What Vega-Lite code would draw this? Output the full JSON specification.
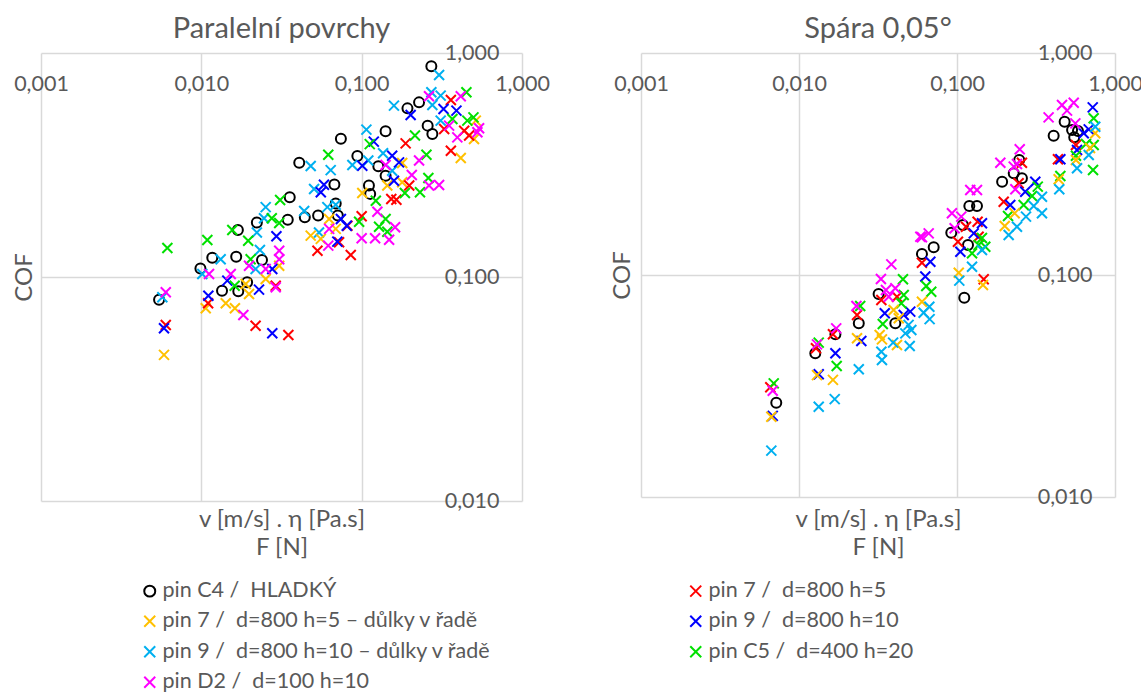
{
"$schema": "https://vega.github.io/schema/vega-lite/v6.json",
"background": "white",
"padding": {"left": 12, "top": 15, "right": 0, "bottom": 0},
"spacing": 60,
"config": {
  "font": "Lato",
  "view": {"stroke": null},
  "title": {"fontSize": 29, "fontWeight": "normal", "color": "#595959", "baseline": "alphabetic", "offset": -2, "frame": "group"},
  "axis": {"grid": true, "gridColor": "#d9d9d9", "gridWidth": 1.5, "domain": false, "ticks": false, "tickSize": 0, "labelFontSize": 21.5, "labelColor": "#595959", "labelFlush": false, "labelOverlap": false, "titleFontSize": 24, "titleFontWeight": "normal", "titleColor": "#595959"}
},
"datasets": {"d": [
{"p":"L","s":"C4","v":0.272,"c":0.872},{"p":"L","s":"C4","v":0.228,"c":0.602},{"p":"L","s":"C4","v":0.193,"c":0.566},{"p":"L","s":"C4","v":0.258,"c":0.474},{"p":"L","s":"C4","v":0.276,"c":0.435},{"p":"L","s":"C4","v":0.141,"c":0.447},{"p":"L","s":"C4","v":0.0742,"c":0.414},{"p":"L","s":"C4","v":0.0408,"c":0.324},{"p":"L","s":"C4","v":0.094,"c":0.347},{"p":"L","s":"C4","v":0.127,"c":0.312},{"p":"L","s":"C4","v":0.141,"c":0.283},{"p":"L","s":"C4","v":0.0676,"c":0.259},{"p":"L","s":"C4","v":0.0356,"c":0.227},{"p":"L","s":"C4","v":0.0346,"c":0.18},{"p":"L","s":"C4","v":0.0442,"c":0.185},{"p":"L","s":"C4","v":0.0535,"c":0.188},{"p":"L","s":"C4","v":0.0689,"c":0.213},{"p":"L","s":"C4","v":0.071,"c":0.188},{"p":"L","s":"C4","v":0.111,"c":0.256},{"p":"L","s":"C4","v":0.113,"c":0.235},{"p":"L","s":"C4","v":0.0169,"c":0.162},{"p":"L","s":"C4","v":0.0222,"c":0.175},{"p":"L","s":"C4","v":0.0117,"c":0.122},{"p":"L","s":"C4","v":0.0165,"c":0.123},{"p":"L","s":"C4","v":0.0239,"c":0.119},{"p":"L","s":"C4","v":0.00987,"c":0.109},{"p":"L","s":"C4","v":0.01346,"c":0.0868},{"p":"L","s":"C4","v":0.017,"c":0.0863},{"p":"L","s":"C4","v":0.0193,"c":0.0947},{"p":"L","s":"C4","v":0.00545,"c":0.0792},
{"p":"L","s":"9d","v":0.304,"c":0.798},{"p":"L","s":"9d","v":0.272,"c":0.668},{"p":"L","s":"9d","v":0.311,"c":0.645},{"p":"L","s":"9d","v":0.276,"c":0.586},{"p":"L","s":"9d","v":0.159,"c":0.582},{"p":"L","s":"9d","v":0.311,"c":0.499},{"p":"L","s":"9d","v":0.107,"c":0.455},{"p":"L","s":"9d","v":0.136,"c":0.357},{"p":"L","s":"9d","v":0.0875,"c":0.316},{"p":"L","s":"9d","v":0.11,"c":0.331},{"p":"L","s":"9d","v":0.0481,"c":0.313},{"p":"L","s":"9d","v":0.0641,"c":0.3},{"p":"L","s":"9d","v":0.0505,"c":0.247},{"p":"L","s":"9d","v":0.0438,"c":0.197},{"p":"L","s":"9d","v":0.0611,"c":0.205},{"p":"L","s":"9d","v":0.0689,"c":0.21},{"p":"L","s":"9d","v":0.0542,"c":0.158},{"p":"L","s":"9d","v":0.0252,"c":0.205},{"p":"L","s":"9d","v":0.0246,"c":0.183},{"p":"L","s":"9d","v":0.0222,"c":0.158},{"p":"L","s":"9d","v":0.0232,"c":0.132},{"p":"L","s":"9d","v":0.0132,"c":0.12},{"p":"L","s":"9d","v":0.01014,"c":0.1031},{"p":"L","s":"9d","v":0.155,"c":0.298},{"p":"L","s":"9d","v":0.00571,"c":0.0812},{"p":"L","s":"9d","v":0.0218,"c":0.1086},
{"p":"L","s":"7d","v":0.515,"c":0.499},{"p":"L","s":"7d","v":0.502,"c":0.413},{"p":"L","s":"7d","v":0.415,"c":0.34},{"p":"L","s":"7d","v":0.179,"c":0.323},{"p":"L","s":"7d","v":0.1009,"c":0.237},{"p":"L","s":"7d","v":0.1445,"c":0.256},{"p":"L","s":"7d","v":0.179,"c":0.265},{"p":"L","s":"7d","v":0.0481,"c":0.153},{"p":"L","s":"7d","v":0.0556,"c":0.148},{"p":"L","s":"7d","v":0.0627,"c":0.1815},{"p":"L","s":"7d","v":0.0689,"c":0.164},{"p":"L","s":"7d","v":0.0306,"c":0.1123},{"p":"L","s":"7d","v":0.0252,"c":0.098},{"p":"L","s":"7d","v":0.01984,"c":0.084},{"p":"L","s":"7d","v":0.0189,"c":0.0931},{"p":"L","s":"7d","v":0.0142,"c":0.0763},{"p":"L","s":"7d","v":0.01065,"c":0.0725},{"p":"L","s":"7d","v":0.0162,"c":0.0725},{"p":"L","s":"7d","v":0.00585,"c":0.0449},
{"p":"L","s":"7","v":0.36,"c":0.617},{"p":"L","s":"7","v":0.327,"c":0.458},{"p":"L","s":"7","v":0.436,"c":0.45},{"p":"L","s":"7","v":0.468,"c":0.428},{"p":"L","s":"7","v":0.36,"c":0.366},{"p":"L","s":"7","v":0.188,"c":0.395},{"p":"L","s":"7","v":0.198,"c":0.256},{"p":"L","s":"7","v":0.153,"c":0.223},{"p":"L","s":"7","v":0.1646,"c":0.2214},{"p":"L","s":"7","v":0.1,"c":0.1866},{"p":"L","s":"7","v":0.0815,"c":0.1694},{"p":"L","s":"7","v":0.0723,"c":0.1429},{"p":"L","s":"7","v":0.053,"c":0.131},{"p":"L","s":"7","v":0.0855,"c":0.1254},{"p":"L","s":"7","v":0.0291,"c":0.0914},{"p":"L","s":"7","v":0.006,"c":0.0611},{"p":"L","s":"7","v":0.0218,"c":0.0606},{"p":"L","s":"7","v":0.0349,"c":0.0551},{"p":"L","s":"7","v":0.01102,"c":0.0763},
{"p":"L","s":"9","v":0.324,"c":0.562},{"p":"L","s":"9","v":0.39,"c":0.553},{"p":"L","s":"9","v":0.202,"c":0.529},{"p":"L","s":"9","v":0.119,"c":0.402},{"p":"L","s":"9","v":0.1009,"c":0.314},{"p":"L","s":"9","v":0.155,"c":0.348},{"p":"L","s":"9","v":0.171,"c":0.325},{"p":"L","s":"9","v":0.159,"c":0.269},{"p":"L","s":"9","v":0.0582,"c":0.258},{"p":"L","s":"9","v":0.0556,"c":0.239},{"p":"L","s":"9","v":0.0742,"c":0.1815},{"p":"L","s":"9","v":0.0807,"c":0.1694},{"p":"L","s":"9","v":0.0705,"c":0.1438},{"p":"L","s":"9","v":0.0294,"c":0.152},{"p":"L","s":"9","v":0.0277,"c":0.1086},{"p":"L","s":"9","v":0.01452,"c":0.0963},{"p":"L","s":"9","v":0.0229,"c":0.0878},{"p":"L","s":"9","v":0.01106,"c":0.0825},{"p":"L","s":"9","v":0.00585,"c":0.059},{"p":"L","s":"9","v":0.0277,"c":0.0561},
{"p":"L","s":"C5","v":0.45,"c":0.668},{"p":"L","s":"C5","v":0.498,"c":0.516},{"p":"L","s":"C5","v":0.456,"c":0.499},{"p":"L","s":"C5","v":0.368,"c":0.507},{"p":"L","s":"C5","v":0.215,"c":0.428},{"p":"L","s":"C5","v":0.1123,"c":0.392},{"p":"L","s":"C5","v":0.2535,"c":0.3516},{"p":"L","s":"C5","v":0.0619,"c":0.3516},{"p":"L","s":"C5","v":0.031,"c":0.2207},{"p":"L","s":"C5","v":0.0275,"c":0.1828},{"p":"L","s":"C5","v":0.0156,"c":0.162},{"p":"L","s":"C5","v":0.0196,"c":0.1452},{"p":"L","s":"C5","v":0.0109,"c":0.1463},{"p":"L","s":"C5","v":0.00614,"c":0.1348},{"p":"L","s":"C5","v":0.0306,"c":0.1742},{"p":"L","s":"C5","v":0.2606,"c":0.2767},{"p":"L","s":"C5","v":0.231,"c":0.239},{"p":"L","s":"C5","v":0.186,"c":0.237},{"p":"L","s":"C5","v":0.1225,"c":0.219},{"p":"L","s":"C5","v":0.0964,"c":0.1766},{"p":"L","s":"C5","v":0.141,"c":0.1815},{"p":"L","s":"C5","v":0.1284,"c":0.1677},{"p":"L","s":"C5","v":0.1445,"c":0.1593},{"p":"L","s":"C5","v":0.0203,"c":0.12},{"p":"L","s":"C5","v":0.01614,"c":0.0914},
{"p":"L","s":"D2","v":0.415,"c":0.641},{"p":"L","s":"D2","v":0.263,"c":0.641},{"p":"L","s":"D2","v":0.351,"c":0.474},{"p":"L","s":"D2","v":0.395,"c":0.42},{"p":"L","s":"D2","v":0.54,"c":0.461},{"p":"L","s":"D2","v":0.527,"c":0.4426},{"p":"L","s":"D2","v":0.141,"c":0.316},{"p":"L","s":"D2","v":0.2054,"c":0.2853},{"p":"L","s":"D2","v":0.228,"c":0.331},{"p":"L","s":"D2","v":0.263,"c":0.256},{"p":"L","s":"D2","v":0.304,"c":0.2574},{"p":"L","s":"D2","v":0.1253,"c":0.1957},{"p":"L","s":"D2","v":0.1616,"c":0.1667},{"p":"L","s":"D2","v":0.1,"c":0.149},{"p":"L","s":"D2","v":0.1213,"c":0.149},{"p":"L","s":"D2","v":0.1483,"c":0.1467},{"p":"L","s":"D2","v":0.0619,"c":0.138},{"p":"L","s":"D2","v":0.0627,"c":0.164},{"p":"L","s":"D2","v":0.0306,"c":0.131},{"p":"L","s":"D2","v":0.0306,"c":0.12},{"p":"L","s":"D2","v":0.0252,"c":0.1086},{"p":"L","s":"D2","v":0.01984,"c":0.1123},{"p":"L","s":"D2","v":0.01526,"c":0.1031},{"p":"L","s":"D2","v":0.01117,"c":0.1031},{"p":"L","s":"D2","v":0.0291,"c":0.09},{"p":"L","s":"D2","v":0.01828,"c":0.0677},{"p":"L","s":"D2","v":0.006,"c":0.0855},
{"p":"R","s":"C4","v":0.00718,"c":0.0266},{"p":"R","s":"C4","v":0.01268,"c":0.0444},{"p":"R","s":"C4","v":0.017,"c":0.0541},{"p":"R","s":"C4","v":0.0239,"c":0.0606},{"p":"R","s":"C4","v":0.0319,"c":0.0821},{"p":"R","s":"C4","v":0.0407,"c":0.0606},{"p":"R","s":"C4","v":0.06,"c":0.1243},{"p":"R","s":"C4","v":0.0712,"c":0.1333},{"p":"R","s":"C4","v":0.092,"c":0.155},{"p":"R","s":"C4","v":0.109,"c":0.168},{"p":"R","s":"C4","v":0.1197,"c":0.2046},{"p":"R","s":"C4","v":0.1338,"c":0.2046},{"p":"R","s":"C4","v":0.1174,"c":0.1365},{"p":"R","s":"C4","v":0.1112,"c":0.079},{"p":"R","s":"C4","v":0.193,"c":0.2632},{"p":"R","s":"C4","v":0.2286,"c":0.2872},{"p":"R","s":"C4","v":0.2477,"c":0.3296},{"p":"R","s":"C4","v":0.2576,"c":0.2726},{"p":"R","s":"C4","v":0.409,"c":0.424},{"p":"R","s":"C4","v":0.48,"c":0.49},{"p":"R","s":"C4","v":0.535,"c":0.45},{"p":"R","s":"C4","v":0.583,"c":0.4455},{"p":"R","s":"C4","v":0.552,"c":0.417},
{"p":"R","s":"7","v":0.00658,"c":0.0312},{"p":"R","s":"7","v":0.0128,"c":0.0468},{"p":"R","s":"7","v":0.0164,"c":0.0541},{"p":"R","s":"7","v":0.0233,"c":0.066},{"p":"R","s":"7","v":0.0332,"c":0.0772},{"p":"R","s":"7","v":0.0417,"c":0.0798},{"p":"R","s":"7","v":0.06,"c":0.1136},{"p":"R","s":"7","v":0.1014,"c":0.1413},{"p":"R","s":"7","v":0.114,"c":0.165},{"p":"R","s":"7","v":0.135,"c":0.1738},{"p":"R","s":"7","v":0.137,"c":0.1488},{"p":"R","s":"7","v":0.1476,"c":0.0957},{"p":"R","s":"7","v":0.1975,"c":0.2138},{"p":"R","s":"7","v":0.2455,"c":0.2588},{"p":"R","s":"7","v":0.2576,"c":0.3205},{"p":"R","s":"7","v":0.4355,"c":0.332},{"p":"R","s":"7","v":0.566,"c":0.385},
{"p":"R","s":"9","v":0.00682,"c":0.0232},{"p":"R","s":"9","v":0.01333,"c":0.0357},{"p":"R","s":"9","v":0.017,"c":0.0444},{"p":"R","s":"9","v":0.0248,"c":0.0504},{"p":"R","s":"9","v":0.0349,"c":0.0672},{"p":"R","s":"9","v":0.0506,"c":0.0684},{"p":"R","s":"9","v":0.046,"c":0.066},{"p":"R","s":"9","v":0.0678,"c":0.1148},{"p":"R","s":"9","v":0.063,"c":0.0984},{"p":"R","s":"9","v":0.105,"c":0.1273},{"p":"R","s":"9","v":0.1439,"c":0.171},{"p":"R","s":"9","v":0.1276,"c":0.154},{"p":"R","s":"9","v":0.2173,"c":0.2067},{"p":"R","s":"9","v":0.2704,"c":0.2373},{"p":"R","s":"9","v":0.313,"c":0.2632},{"p":"R","s":"9","v":0.451,"c":0.332},{"p":"R","s":"9","v":0.575,"c":0.3656},{"p":"R","s":"9","v":0.7228,"c":0.569},{"p":"R","s":"9","v":0.682,"c":0.453},{"p":"R","s":"9","v":0.634,"c":0.4348},
{"p":"R","s":"C5","v":0.00692,"c":0.0325},{"p":"R","s":"C5","v":0.01333,"c":0.0496},{"p":"R","s":"C5","v":0.01732,"c":0.0389},{"p":"R","s":"C5","v":0.0244,"c":0.0725},{"p":"R","s":"C5","v":0.0455,"c":0.0957},{"p":"R","s":"C5","v":0.046,"c":0.0813},{"p":"R","s":"C5","v":0.0444,"c":0.0746},{"p":"R","s":"C5","v":0.0339,"c":0.0602},{"p":"R","s":"C5","v":0.0639,"c":0.0892},{"p":"R","s":"C5","v":0.0687,"c":0.0841},{"p":"R","s":"C5","v":0.1245,"c":0.1252},{"p":"R","s":"C5","v":0.137,"c":0.1365},{"p":"R","s":"C5","v":0.151,"c":0.134},{"p":"R","s":"C5","v":0.1439,"c":0.1468},{"p":"R","s":"C5","v":0.3245,"c":0.25},{"p":"R","s":"C5","v":0.2985,"c":0.227},{"p":"R","s":"C5","v":0.264,"c":0.2067},{"p":"R","s":"C5","v":0.2104,"c":0.1844},{"p":"R","s":"C5","v":0.733,"c":0.508},{"p":"R","s":"C5","v":0.6555,"c":0.389},{"p":"R","s":"C5","v":0.733,"c":0.385},{"p":"R","s":"C5","v":0.566,"c":0.3446},{"p":"R","s":"C5","v":0.726,"c":0.297},{"p":"R","s":"C5","v":0.451,"c":0.279},
{"p":"R","s":"7d","v":0.00668,"c":0.023},{"p":"R","s":"7d","v":0.013,"c":0.0354},{"p":"R","s":"7d","v":0.0164,"c":0.0337},{"p":"R","s":"7d","v":0.0233,"c":0.0519},{"p":"R","s":"7d","v":0.0324,"c":0.0537},{"p":"R","s":"7d","v":0.0335,"c":0.0513},{"p":"R","s":"7d","v":0.0417,"c":0.0484},{"p":"R","s":"7d","v":0.0397,"c":0.0696},{"p":"R","s":"7d","v":0.0428,"c":0.0638},{"p":"R","s":"7d","v":0.06,"c":0.0758},{"p":"R","s":"7d","v":0.1026,"c":0.1024},{"p":"R","s":"7d","v":0.146,"c":0.0902},{"p":"R","s":"7d","v":0.2317,"c":0.1897},{"p":"R","s":"7d","v":0.2005,"c":0.1662},{"p":"R","s":"7d","v":0.44,"c":0.27},{"p":"R","s":"7d","v":0.566,"c":0.3296},{"p":"R","s":"7d","v":0.75,"c":0.4348},{"p":"R","s":"7d","v":0.695,"c":0.373},
{"p":"R","s":"9d","v":0.00668,"c":0.01617},{"p":"R","s":"9d","v":0.01333,"c":0.0255},{"p":"R","s":"9d","v":0.01683,"c":0.0276},{"p":"R","s":"9d","v":0.0239,"c":0.0376},{"p":"R","s":"9d","v":0.0332,"c":0.0451},{"p":"R","s":"9d","v":0.0335,"c":0.0414},{"p":"R","s":"9d","v":0.0394,"c":0.0496},{"p":"R","s":"9d","v":0.0502,"c":0.0479},{"p":"R","s":"9d","v":0.0471,"c":0.0546},{"p":"R","s":"9d","v":0.0514,"c":0.0565},{"p":"R","s":"9d","v":0.0615,"c":0.0676},{"p":"R","s":"9d","v":0.0668,"c":0.072},{"p":"R","s":"9d","v":0.0671,"c":0.0633},{"p":"R","s":"9d","v":0.0494,"c":0.0596},{"p":"R","s":"9d","v":0.1034,"c":0.0943},{"p":"R","s":"9d","v":0.1245,"c":0.109},{"p":"R","s":"9d","v":0.1439,"c":0.1297},{"p":"R","s":"9d","v":0.2397,"c":0.165},{"p":"R","s":"9d","v":0.2123,"c":0.1514},{"p":"R","s":"9d","v":0.2734,"c":0.1832},{"p":"R","s":"9d","v":0.345,"c":0.1897},{"p":"R","s":"9d","v":0.345,"c":0.2253},{"p":"R","s":"9d","v":0.3058,"c":0.2046},{"p":"R","s":"9d","v":0.444,"c":0.2432},{"p":"R","s":"9d","v":0.575,"c":0.3024},{"p":"R","s":"9d","v":0.682,"c":0.347},{"p":"R","s":"9d","v":0.75,"c":0.4656},
{"p":"R","s":"D2","v":0.00682,"c":0.0301},{"p":"R","s":"D2","v":0.013,"c":0.0487},{"p":"R","s":"D2","v":0.0172,"c":0.0575},{"p":"R","s":"D2","v":0.0231,"c":0.0725},{"p":"R","s":"D2","v":0.0384,"c":0.1117},{"p":"R","s":"D2","v":0.033,"c":0.0959},{"p":"R","s":"D2","v":0.0355,"c":0.0856},{"p":"R","s":"D2","v":0.0407,"c":0.0871},{"p":"R","s":"D2","v":0.037,"c":0.0798},{"p":"R","s":"D2","v":0.06,"c":0.1479},{"p":"R","s":"D2","v":0.0662,"c":0.154},{"p":"R","s":"D2","v":0.0586,"c":0.1488},{"p":"R","s":"D2","v":0.0929,"c":0.1897},{"p":"R","s":"D2","v":0.1064,"c":0.1832},{"p":"R","s":"D2","v":0.0966,"c":0.1623},{"p":"R","s":"D2","v":0.1213,"c":0.2415},{"p":"R","s":"D2","v":0.1338,"c":0.2415},{"p":"R","s":"D2","v":0.188,"c":0.3205},{"p":"R","s":"D2","v":0.2286,"c":0.3076},{"p":"R","s":"D2","v":0.2495,"c":0.3683},{"p":"R","s":"D2","v":0.234,"c":0.2432},{"p":"R","s":"D2","v":0.462,"c":0.583},{"p":"R","s":"D2","v":0.548,"c":0.597},{"p":"R","s":"D2","v":0.38,"c":0.513},{"p":"R","s":"D2","v":0.497,"c":0.55},{"p":"R","s":"D2","v":0.561,"c":0.482},{"p":"R","s":"D2","v":0.2397,"c":0.316}
]},
"hconcat": [
{
  "title": {"text": "Paralelní povrchy"},
  "width": 481, "height": 448,
  "data": {"name": "d"},
  "transform": [{"filter": "datum.p == 'L'"}],
  "mark": {"type": "point", "filled": false, "strokeWidth": 2, "size": 100, "opacity": 1},
  "encoding": {
    "x": {"field": "v", "type": "quantitative", "scale": {"type": "log", "domain": [0.001, 1], "nice": false},
      "axis": {"orient": "top", "values": [0.001, 0.01, 0.1, 1], "labelExpr": "replace(format(datum.value, '.3f'), '.', ',')", "labelBaseline": "middle", "labelPadding": -31, "title": ["v [m/s] . η [Pa.s]", "F [N]"], "titleY": 454, "titleBaseline": "top", "titleLineHeight": 28}},
    "y": {"field": "c", "type": "quantitative", "scale": {"type": "log", "domain": [0.01, 1], "nice": false},
      "axis": {"orient": "right", "values": [0.01, 0.1, 1], "labelExpr": "replace(format(datum.value, '.3f'), '.', ',')", "labelAlign": "right", "labelBaseline": "middle", "labelPadding": -23, "title": "COF", "titleAngle": 270, "titleX": -498, "titleY": 224, "titleAlign": "center", "titleBaseline": "middle"}},
    "color": {"field": "s", "type": "nominal", "scale": {"domain": ["C4", "7d", "9d", "D2", "7", "9", "C5"], "range": ["#000000", "#FFC000", "#00B0F0", "#FF00FF", "#FF0000", "#0000FF", "#00E000"]},
      "legend": {"title": null, "orient": "none", "legendX": 98, "legendY": 527, "columns": 2, "columnPadding": 193, "rowPadding": 7.5, "labelFontSize": 21.5, "labelColor": "#595959", "labelLimit": 600, "symbolSize": 120, "symbolStrokeWidth": 2, "labelOffset": 2, "labelExpr": "{'C4': 'pin C4 / \u00a0HLADKÝ', '7d': 'pin 7 / \u00a0d=800 h=5 – důlky v řadě', '9d': 'pin 9 / \u00a0d=800 h=10 – důlky v řadě', 'D2': 'pin D2 / \u00a0d=100 h=10', '7': 'pin 7 / \u00a0d=800 h=5', '9': 'pin 9 / \u00a0d=800 h=10', 'C5': 'pin C5 / \u00a0d=400 h=20'}[datum.value]"}},
    "shape": {"field": "s", "type": "nominal", "scale": {"domain": ["C4", "7d", "9d", "D2", "7", "9", "C5"], "range": ["circle", "M-1,-1L1,1M-1,1L1,-1", "M-1,-1L1,1M-1,1L1,-1", "M-1,-1L1,1M-1,1L1,-1", "M-1,-1L1,1M-1,1L1,-1", "M-1,-1L1,1M-1,1L1,-1", "M-1,-1L1,1M-1,1L1,-1"]},
      "legend": {"title": null, "orient": "none", "legendX": 98, "legendY": 527, "columns": 2, "columnPadding": 193, "rowPadding": 7.5, "labelFontSize": 21.5, "labelColor": "#595959", "labelLimit": 600, "symbolSize": 120, "symbolStrokeWidth": 2, "labelOffset": 2, "labelExpr": "{'C4': 'pin C4 / \u00a0HLADKÝ', '7d': 'pin 7 / \u00a0d=800 h=5 – důlky v řadě', '9d': 'pin 9 / \u00a0d=800 h=10 – důlky v řadě', 'D2': 'pin D2 / \u00a0d=100 h=10', '7': 'pin 7 / \u00a0d=800 h=5', '9': 'pin 9 / \u00a0d=800 h=10', 'C5': 'pin C5 / \u00a0d=400 h=20'}[datum.value]"}}
  }
},
{
  "title": {"text": "Spára 0,05°"},
  "width": 474, "height": 444,
  "data": {"name": "d"},
  "transform": [{"filter": "datum.p == 'R'"}],
  "mark": {"type": "point", "filled": false, "strokeWidth": 2, "size": 100, "opacity": 1},
  "encoding": {
    "x": {"field": "v", "type": "quantitative", "scale": {"type": "log", "domain": [0.001, 1], "nice": false},
      "axis": {"orient": "top", "values": [0.001, 0.01, 0.1, 1], "labelExpr": "replace(format(datum.value, '.3f'), '.', ',')", "labelBaseline": "middle", "labelPadding": -31, "title": ["v [m/s] . η [Pa.s]", "F [N]"], "titleY": 454, "titleBaseline": "top", "titleLineHeight": 28}},
    "y": {"field": "c", "type": "quantitative", "scale": {"type": "log", "domain": [0.01, 1], "nice": false},
      "axis": {"orient": "right", "values": [0.01, 0.1, 1], "labelExpr": "replace(format(datum.value, '.3f'), '.', ',')", "labelAlign": "right", "labelBaseline": "middle", "labelPadding": -23, "title": "COF", "titleAngle": 270, "titleX": -493, "titleY": 222, "titleAlign": "center", "titleBaseline": "middle"}},
    "color": {"field": "s", "type": "nominal"},
    "shape": {"field": "s", "type": "nominal"}
  }
}
]
}
